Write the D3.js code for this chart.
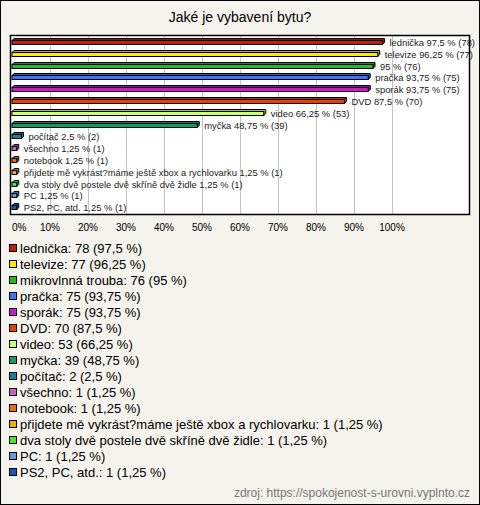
<!DOCTYPE html>
<html>
<head>
<meta charset="utf-8">
<script src="https://cdn.jsdelivr.net/npm/d3@7"></script>
<style>
  body { margin: 0; background: #fff; }
  svg { display: block; font-family: "Liberation Sans", Arial, sans-serif; }
</style>
</head>
<body>
<svg id="chart"></svg>
<script>
// data
const categories = ['lednička', 'televize', 'mikrovlnná trouba', 'pračka', 'sporák', 'DVD', 'video', 'myčka',
  'počítač', 'všechno', 'notebook', 'přijdete mě vykrást?máme ještě xbox a rychlovarku',
  'dva stoly dvě postele dvě skříně dvě židle', 'PC', 'PS2, PC, atd.'];
const counts = [78, 77, 76, 75, 75, 70, 53, 39, 2, 1, 1, 1, 1, 1, 1];
const percents = [97.5, 96.25, 95, 93.75, 93.75, 87.5, 66.25, 48.75, 2.5, 1.25, 1.25, 1.25, 1.25, 1.25, 1.25];
// name shown next to the bar (mikrovlnná trouba has no name there)
const barNames = ['lednička', 'televize', '', 'pračka', 'sporák', 'DVD', 'video', 'myčka',
  'počítač', 'všechno', 'notebook', 'přijdete mě vykrást?máme ještě xbox a rychlovarku',
  'dva stoly dvě postele dvě skříně dvě židle', 'PC', 'PS2, PC, atd.'];
const colors = ['#c41e0a', '#ffe800', '#1cbf1c', '#4472f4', '#c81ccc', '#e8400c', '#ccff77', '#119966',
  '#1a8297', '#c862c8', '#e87400', '#e8b400', '#44ea30', '#6a94e8', '#2452b8'];
const ticks = [0, 10, 20, 30, 40, 50, 60, 70, 80, 90, 100];
const title = 'Jaké je vybavení bytu?';
const source = 'zdroj: https://spokojenost-s-urovni.vyplnto.cz';

const width = 480;
const height = 505;
const plot = { left: 10, right: 470, top: 35, bottom: 215 };

const fmt = v => String(v).replace('.', ',');

const svg = d3.select('#chart')
  .attr('width', width)
  .attr('height', height);

// background + frame
svg.append('rect')
  .attr('x', 0.5).attr('y', 0.5)
  .attr('width', width - 1).attr('height', height - 1)
  .attr('fill', '#f4f3ec')
  .attr('stroke', '#000');

svg.append('text')
  .attr('x', width / 2).attr('y', 22)
  .attr('text-anchor', 'middle')
  .attr('font-size', 14)
  .attr('fill', '#000')
  .text(title);

// scales
const x = d3.scaleLinear().domain([0, 100]).range([12, 392]);
const y = d3.scaleBand().domain(categories).range([36, 213]);

// plot area
svg.append('rect')
  .attr('x', plot.left).attr('y', plot.top)
  .attr('width', plot.right - plot.left).attr('height', plot.bottom - plot.top)
  .attr('fill', '#fff');

svg.append('g')
  .selectAll('line')
  .data(ticks.slice(1))
  .enter()
  .append('line')
  .attr('x1', d => Math.round(x(d)) + 0.5)
  .attr('x2', d => Math.round(x(d)) + 0.5)
  .attr('y1', plot.top)
  .attr('y2', plot.bottom)
  .attr('stroke', '#c4c4c4');

// bars (pseudo 3D)
const rows = categories.map((c, i) => ({ c, i, v: percents[i], n: counts[i] }));
const barH = 4;
const depth = 2;

const bars = svg.append('g')
  .selectAll('g')
  .data(rows)
  .enter()
  .append('g')
  .attr('transform', d => `translate(0, ${Math.round(y(d.c) + y.bandwidth() / 2 - barH / 2) + 0.5})`);

bars.append('path')
  .attr('d', d => {
    const x0 = x(0), x1 = x(d.v);
    return `M${x0},0 L${x0 + depth},${-depth} L${x1 + depth},${-depth} L${x1 + depth},${barH - depth} L${x1},${barH} L${x1},0 Z`;
  })
  .attr('fill', (d, i) => d3.color(colors[i]).darker(0.8))
  .attr('stroke', '#000')
  .attr('stroke-width', 1);

bars.append('rect')
  .attr('x', x(0))
  .attr('y', 0)
  .attr('width', d => x(d.v) - x(0))
  .attr('height', barH)
  .attr('fill', (d, i) => colors[i])
  .attr('stroke', '#000')
  .attr('stroke-width', 1);

bars.append('text')
  .attr('x', d => x(d.v) + 7)
  .attr('y', barH / 2 + 3)
  .attr('font-size', 9.4)
  .attr('fill', '#222')
  .text((d, i) => `${barNames[i] ? barNames[i] + ' ' : ''}${fmt(d.v)} % (${d.n})`);

// plot frame
svg.append('rect')
  .attr('x', plot.left + 0.5).attr('y', plot.top + 0.5)
  .attr('width', plot.right - plot.left - 1).attr('height', plot.bottom - plot.top - 1)
  .attr('fill', 'none')
  .attr('stroke', '#000')
  .attr('stroke-width', 1.5);

// axis labels
svg.append('g')
  .selectAll('text')
  .data(ticks)
  .enter()
  .append('text')
  .attr('x', d => x(d))
  .attr('y', 231)
  .attr('text-anchor', d => d === 0 ? 'start' : 'middle')
  .attr('font-size', 10)
  .attr('fill', '#000')
  .text(d => d + '%');

// legend
const ly = d3.scaleBand().domain(categories).range([240, 480]);
const legend = svg.append('g')
  .selectAll('g')
  .data(rows)
  .enter()
  .append('g')
  .attr('transform', d => `translate(0, ${ly(d.c) + ly.bandwidth() / 2})`);

legend.append('rect')
  .attr('x', 9.5).attr('y', -3.5)
  .attr('width', 7).attr('height', 7)
  .attr('fill', (d, i) => colors[i])
  .attr('stroke', '#000');

legend.append('text')
  .attr('x', 20)
  .attr('y', 5)
  .attr('font-size', 13)
  .attr('fill', '#000')
  .text(d => `${d.c}: ${d.n} (${fmt(d.v)} %)`);

svg.append('text')
  .attr('x', 470).attr('y', 497)
  .attr('text-anchor', 'end')
  .attr('font-size', 12)
  .attr('fill', '#777')
  .text(source);
</script>
</body>
</html>
